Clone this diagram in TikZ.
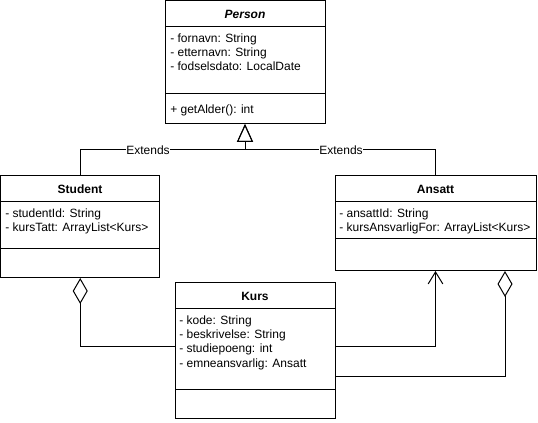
\documentclass[tikz,border=0pt]{standalone}
\usepackage{fontspec}
\setmainfont{Liberation Sans}
\usetikzlibrary{arrows.meta}
\begin{document}
\begin{tikzpicture}[x=0.75pt,y=-0.75pt,
  box/.style={draw, line width=0.75pt, anchor=north west, inner sep=0pt, outer sep=0pt},
  txt/.style={font=\fontsize{9}{10.5}\selectfont, inner sep=0pt, text height=6.5pt, text depth=2pt, anchor=west},
  hdr/.style={font=\fontsize{9}{10.5}\selectfont\bfseries, inner sep=0pt, anchor=center},
  lbl/.style={font=\fontsize{9}{10.5}\selectfont, fill=white, inner sep=0.5pt},
  conn/.style={line width=0.75pt},
  inh/.style={conn, -{Triangle[open, length=13.5pt, width=12pt, line width=0.75pt]}},
  nav/.style={conn, -{Straight Barb[length=9pt, width=11pt, line width=0.75pt]}},
  agg/.style={conn, -{Diamond[open, length=19.5pt, width=11.25pt, line width=0.75pt]}}
]
\useasboundingbox (0,0) rectangle (538,423);

% Person
\node[box, minimum width=120pt, minimum height=92.25pt] (person) at (165,1) {};
\draw[conn] (165,27) -- (325,27);
\draw[conn] (165,94) -- (325,94);
\node[hdr, font=\fontsize{9}{10.5}\selectfont\bfseries\itshape] (personh) at (245,14) {Person};
\node[txt] (p1) at (170,40) {- fornavn: String};
\node[txt] (p2) at (170,54) {- etternavn: String};
\node[txt] (p3) at (170,68) {- fodselsdato: LocalDate};
\node[txt] (pm) at (170,111) {+ getAlder(): int};

% Student
\node[box, minimum width=119.6pt, minimum height=76.5pt] (student) at (0.5,176) {};
\draw[conn] (0.5,202) -- (160,202);
\draw[conn] (0.5,249) -- (160,249);
\node[hdr] (studenth) at (80,189) {Student};
\node[txt] (s1) at (5,215) {- studentId: String};
\node[txt] (s2) at (5,229) {- kursTatt: ArrayList<Kurs>};

% Ansatt
\node[box, minimum width=150.75pt, minimum height=71.25pt] (ansatt) at (335,176) {};
\draw[conn] (335,202) -- (536,202);
\draw[conn] (335,239) -- (536,239);
\node[hdr] (ansatth) at (435.5,189) {Ansatt};
\node[txt] (a1) at (339,215) {- ansattId: String};
\node[txt] (a2) at (339,229) {- kursAnsvarligFor: ArrayList<Kurs>};

% Kurs
\node[box, minimum width=120pt, minimum height=101.25pt] (kurs) at (175,283) {};
\draw[conn] (175,309) -- (335,309);
\draw[conn] (175,389) -- (335,389);
\node[hdr] (kursh) at (255,296) {Kurs};
\node[txt] (k1) at (179,322) {- kode: String};
\node[txt] (k2) at (179,336) {- beskrivelse: String};
\node[txt] (k3) at (179,350) {- studiepoeng: int};
\node[txt] (k4) at (179,364) {- emneansvarlig: Ansatt};

% connectors
\coordinate (jn) at (245,150);
\coordinate (ya) at (0,347);
\coordinate (yb) at (0,376);
\coordinate (xb) at (505,0);

\draw[inh] (student.north) |- (jn) -- (person.south);
\draw[inh] (ansatt.north) |- (jn) -- (person.south);
\node[lbl] (ext1) at (148,150) {Extends};
\node[lbl] (ext2) at (341,150) {Extends};

\draw[agg] (kurs.west |- ya) -| (student.south);
\draw[nav] (kurs.east |- ya) -| (ansatt.south);
\draw[agg] (kurs.east |- yb) -| (ansatt.south -| xb);
\end{tikzpicture}
\end{document}
